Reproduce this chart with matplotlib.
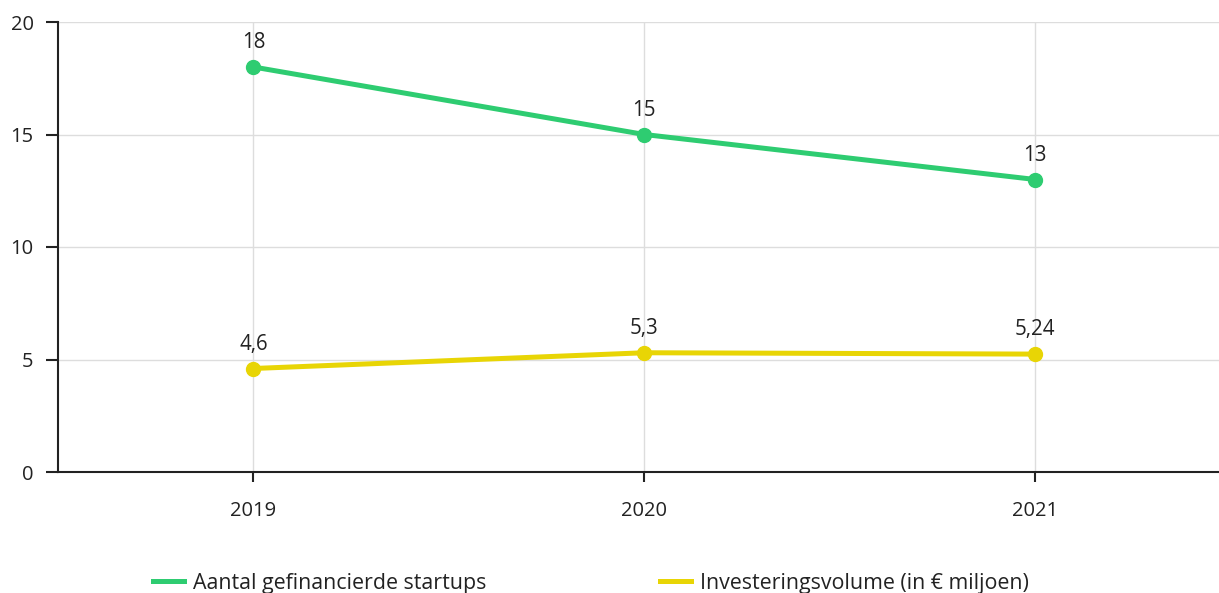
import numpy as np
import matplotlib.pyplot as plt
from matplotlib.lines import Line2D

plt.rcParams['font.family'] = ['Open Sans', 'DejaVu Sans']

years = ['2019', '2020', '2021']
startups = [18, 15, 13]
investment = [4.6, 5.3, 5.24]
startup_labels = ['18', '15', '13']
investment_labels = ['4,6', '5,3', '5,24']
yticks = [0, 5, 10, 15, 20]
series_names = ['Aantal gefinancierde startups', 'Investeringsvolume (in € miljoen)']

green = '#2ECC71'
yellow = '#E8D505'

fig = plt.figure(figsize=(12.19, 5.93), dpi=100)
ax = fig.add_axes([58 / 1219, 121 / 593, 1 - 58 / 1219, 450 / 593])

x = np.arange(len(years))
ax.plot(x, startups, color=green, lw=3.6, marker='o', ms=10, zorder=3)
ax.plot(x, investment, color=yellow, lw=3.6, marker='o', ms=10, zorder=3)

# value labels above each point
for xi, v, s in zip(x, startups, startup_labels):
    ax.annotate(s, (xi, v), xytext=(0, 17.5), textcoords='offset points',
                ha='center', va='center', fontsize=14.8, color='#222222')
for xi, v, s in zip(x, investment, investment_labels):
    ax.annotate(s, (xi, v), xytext=(0, 17.5), textcoords='offset points',
                ha='center', va='center', fontsize=14.8, color='#222222')

ax.set_xlim(-0.5, 2.47)
ax.set_ylim(0, 20)
ax.set_xticks(x)
ax.set_xticklabels(years)
ax.set_yticks(yticks)
ax.grid(True, color='#dddddd', lw=1)
ax.set_axisbelow(True)
for side in ['top', 'right']:
    ax.spines[side].set_visible(False)
for side in ['left', 'bottom']:
    ax.spines[side].set_color('#222222')
    ax.spines[side].set_linewidth(1.5)
ax.tick_params(axis='y', length=8.6, width=1.5, pad=9, labelsize=14.5, colors='#222222')
ax.tick_params(axis='x', length=7, width=1.5, pad=14, labelsize=14.5, colors='#222222')

handles = [Line2D([], [], color=green, lw=3.6), Line2D([], [], color=yellow, lw=3.6)]
fig.legend(handles, series_names, loc='center', bbox_to_anchor=(0.485, 10 / 593),
           ncol=2, frameon=False, fontsize=15.4, handlelength=1.45,
           handletextpad=0.42, columnspacing=8.1, borderaxespad=0, borderpad=0,
           labelcolor='#222222')

fig.savefig('out.png', dpi=100)
